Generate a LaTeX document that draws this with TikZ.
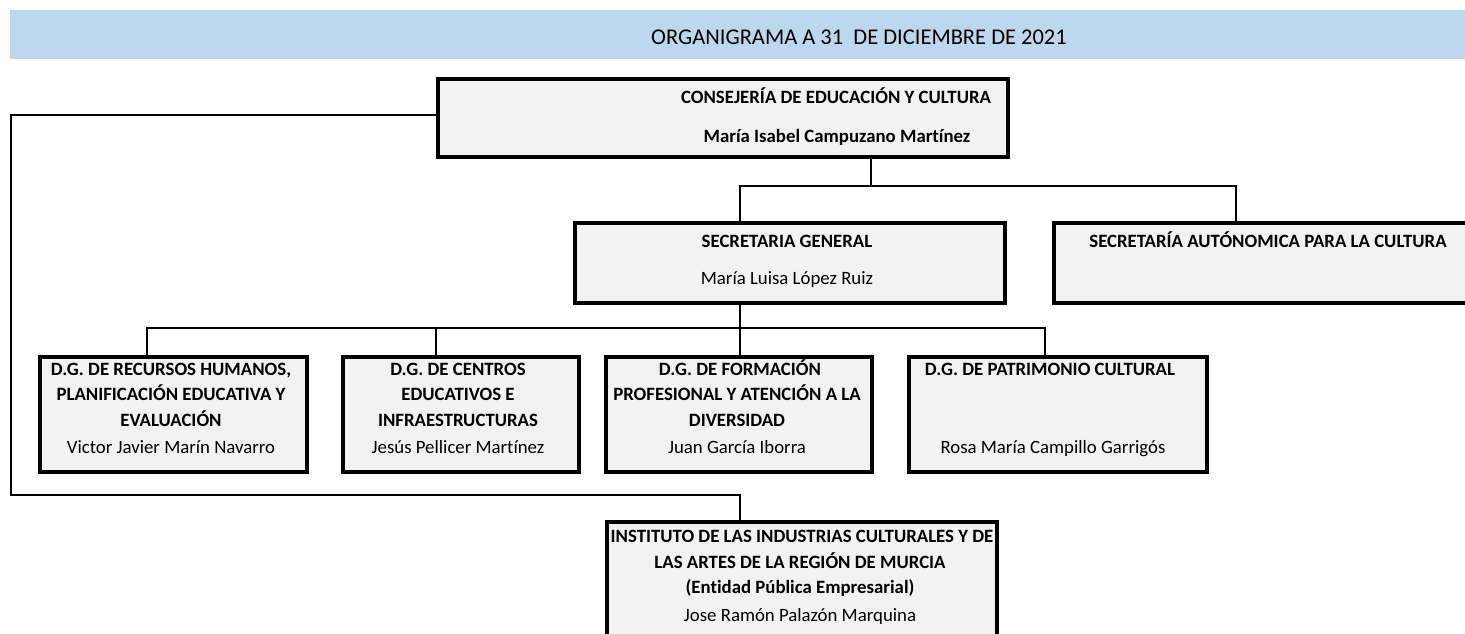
\documentclass[tikz,border=0pt]{standalone}
\usepackage{fontspec}
\setmainfont{Carlito}[Ligatures={NoCommon,NoContextual}]
\definecolor{banner}{HTML}{BDD7EE}
\definecolor{boxfill}{HTML}{F2F2F2}
\begin{document}
\begin{tikzpicture}[x=1pt,y=-1pt,
  orgbox/.style={draw=black,line width=4pt,fill=boxfill,rectangle,inner sep=0pt,anchor=north west},
  conn/.style={draw=black,line width=2pt},
  bt/.style={font=\fontsize{18.8}{22}\selectfont\bfseries,inner sep=0pt,anchor=base},
  nt/.style={font=\fontsize{18.8}{22}\selectfont,inner sep=0pt,anchor=base}]
\clip (0,0) rectangle (1465,633);
\fill[white] (0,0) rectangle (1465,633);
% banner
\node[fill=banner,inner sep=0pt,minimum width=1465pt,minimum height=49pt,anchor=north west] (banner) at (10,10) {};
\node[font=\fontsize{22.5}{26}\selectfont,inner sep=0pt,anchor=base] (title) at (859,44) {ORGANIGRAMA A 31\ \ DE DICIEMBRE DE 2021};
% boxes
\node[orgbox,minimum width=570pt,minimum height=78pt] (cons) at (436,77) {};
\node[orgbox,minimum width=430pt,minimum height=80pt] (sg) at (573,221) {};
\node[orgbox,minimum width=430pt,minimum height=80pt] (sac) at (1052,221) {};
\node[orgbox,minimum width=267pt,minimum height=115pt] (dg1) at (38,355) {};
\node[orgbox,minimum width=236pt,minimum height=115pt] (dg2) at (341,355) {};
\node[orgbox,minimum width=266pt,minimum height=115pt] (dg3) at (604,355) {};
\node[orgbox,minimum width=298pt,minimum height=115pt] (dg4) at (907,355) {};
\node[orgbox,minimum width=390pt,minimum height=140pt] (inst) at (605,520) {};
% texts
\node[bt] (t1) at (836,103) {CONSEJERÍA DE EDUCACIÓN Y CULTURA};
\node[bt] (t2) at (837,142) {María Isabel Campuzano Martínez};
\node[bt] (t3) at (787,247) {SECRETARIA GENERAL};
\node[nt] (t4) at (787,284) {María Luisa López Ruiz};
\node[bt] (t5) at (1268,247) {SECRETARÍA AUTÓNOMICA PARA LA CULTURA};
\node[bt] (t6) at (171,375) {D.G. DE RECURSOS HUMANOS,};
\node[bt] (t7) at (171,400) {PLANIFICACIÓN EDUCATIVA Y};
\node[bt] (t8) at (171,426) {EVALUACIÓN};
\node[nt] (t9) at (171,453) {Victor Javier Marín Navarro};
\node[bt] (t10) at (458,375) {D.G. DE CENTROS};
\node[bt] (t11) at (458,400) {EDUCATIVOS E};
\node[bt] (t12) at (458,426) {INFRAESTRUCTURAS};
\node[nt] (t13) at (458,453) {Jesús Pellicer Martínez};
\node[bt] (t14) at (740,375) {D.G. DE FORMACIÓN};
\node[bt] (t15) at (737,400) {PROFESIONAL Y ATENCIÓN A LA};
\node[bt] (t16) at (737,426) {DIVERSIDAD};
\node[nt] (t17) at (737,453) {Juan García Iborra};
\node[bt] (t18) at (1050,375) {D.G. DE PATRIMONIO CULTURAL};
\node[nt] (t19) at (1053,453) {Rosa María Campillo Garrigós};
\node[bt] (t20) at (802,542) {INSTITUTO DE LAS INDUSTRIAS CULTURALES Y DE};
\node[bt] (t21) at (800,568) {LAS ARTES DE LA REGIÓN DE MURCIA};
\node[bt] (t22) at (800,593) {(Entidad Pública Empresarial)};
\node[nt] (t23) at (800,621) {Jose Ramón Palazón Marquina};
% connectors
\coordinate (c1) at (871,186);
\draw[conn] (cons.south -| c1) -- (c1);
\draw[conn] (sg.north -| 740,0) |- (c1) -| (sac.north -| 1236,0);
\coordinate (c2) at (740,328);
\draw[conn] (sg.south -| c2) -- (c2);
\draw[conn] (dg1.north -| 147,0) |- (c2);
\draw[conn] (c2) -| (dg4.north -| 1045,0);
\draw[conn] (dg2.north -| 436,0) -- (436,328);
\draw[conn] (dg3.north -| 740,0) -- (c2);
\coordinate (c3) at (11,115);
\coordinate (c4) at (11,495);
\draw[conn] (cons.west |- c3) -- (c3) -- (c4) -| (inst.north -| 740,0);
\end{tikzpicture}
\end{document}
